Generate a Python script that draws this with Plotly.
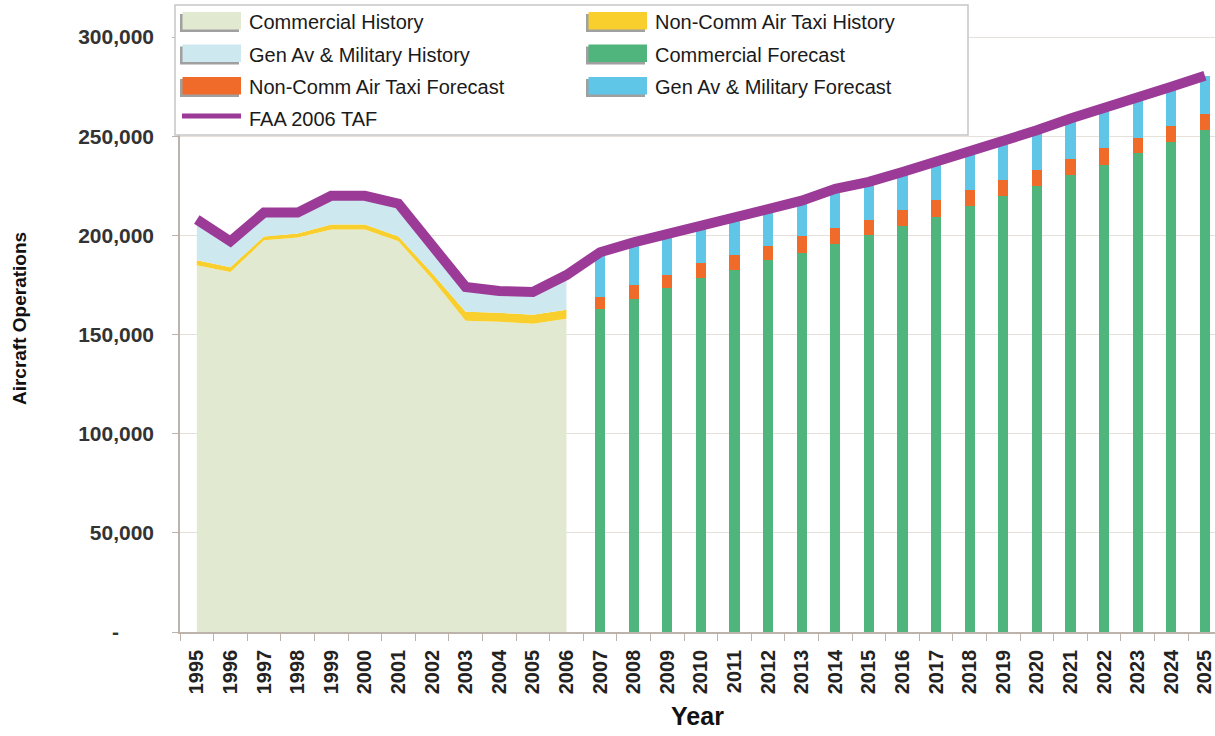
import plotly.graph_objects as go

# ---------------- data (thousands of operations) ----------------
years = [str(y) for y in range(1995, 2026)]
hist_years = [str(y) for y in range(1995, 2007)]
fc_years = [str(y) for y in range(2007, 2026)]

comm_hist = [185, 181.5, 197.5, 199, 203, 203, 197, 178, 157, 156.5, 155.5, 158]
taxi_hist = [2.5, 2.5, 2, 2, 2.5, 2.5, 2.5, 3, 4.5, 4.5, 4.5, 4.5]
genav_hist = [20.5, 13, 12, 10.5, 14.5, 14.5, 16.5, 14, 12.5, 11, 11.5, 17.5]

comm_fc = [163, 168, 173.5, 178.5, 182.5, 187.5, 191, 195.5, 200, 205,
           209.5, 215, 220, 225, 230.5, 235.5, 241.5, 247, 253]
taxi_fc = [6, 7, 6.5, 7.5, 7.5, 7, 8.5, 8, 8, 8, 8.5, 8, 8, 8, 8, 8.5, 7.5, 8, 8]
genav_fc = [22.5, 21.5, 20.5, 19, 19, 18.5, 18, 20, 19, 19, 19, 19.5, 19.5,
            20, 20.5, 20, 20.5, 20, 19.5]

taf = [208, 197, 211.5, 211.5, 220, 220, 216, 195, 174, 172, 171.5, 180,
       191.5, 196.5, 200.5, 205, 209, 213, 217.5, 223.5, 227, 232, 237,
       242.5, 247.5, 253, 259, 264, 269.5, 275, 280.5]

y_ticks = [0, 50000, 100000, 150000, 200000, 250000, 300000]
y_ticktext = ["-\u00a0\u00a0\u00a0\u00a0\u00a0\u00a0", "50,000", "100,000", "150,000",
              "200,000", "250,000", "300,000"]

series_names = ["Commercial History", "Non-Comm Air Taxi History",
                "Gen Av & Military History", "Commercial Forecast",
                "Non-Comm Air Taxi Forecast", "Gen Av & Military Forecast",
                "FAA 2006 TAF"]

# ---------------- styles ----------------
C_COMM_H = "#e2e9d1"
C_TAXI_H = "#f8cf2c"
C_GEN_H = "#cde8ee"
C_COMM_F = "#4fb57c"
C_TAXI_F = "#f06a2a"
C_GEN_F = "#5fc6e8"
C_TAF = "#9b3b97"
series_colors = [C_COMM_H, C_TAXI_H, C_GEN_H, C_COMM_F, C_TAXI_F, C_GEN_F, C_TAF]

FONT = "Liberation Sans, Arial, sans-serif"
W, H = 1215, 736
ML, MR, MT, MB = 180, 0, 5, 104

k = lambda arr: [v * 1000 for v in arr]

fig = go.Figure()

# history stacked areas
for vals, nm, col in [(comm_hist, series_names[0], C_COMM_H),
                      (taxi_hist, series_names[1], C_TAXI_H),
                      (genav_hist, series_names[2], C_GEN_H)]:
    fig.add_trace(go.Scatter(x=hist_years, y=k(vals), name=nm, stackgroup="hist",
                             mode="lines", line=dict(width=0, color=col), fillcolor=col))

# forecast stacked bars
for vals, nm, col in [(comm_fc, series_names[3], C_COMM_F),
                      (taxi_fc, series_names[4], C_TAXI_F),
                      (genav_fc, series_names[5], C_GEN_F)]:
    fig.add_trace(go.Bar(x=fc_years, y=k(vals), name=nm,
                         marker=dict(color=col, line=dict(width=0)), width=0.3))

# TAF line
fig.add_trace(go.Scatter(x=years, y=k(taf), name=series_names[6], mode="lines",
                         line=dict(color=C_TAF, width=10)))

# ---------------- custom legend (layout decoration, paper coords) ----------------
pw, ph = W - ML - MR, H - MT - MB
pxp = lambda x: (x - ML) / pw
pyp = lambda y: (H - MB - y) / ph

shapes = [dict(type="rect", xref="paper", yref="paper", layer="above",
               x0=pxp(175), x1=pxp(968), y0=pyp(135), y1=pyp(5),
               line=dict(color="#c6c6c6", width=1.5), fillcolor="white")]
annotations = []
row_c = [22, 54.5, 87, 119]
sw_x = [180, 586]
tx_x = [247, 653]
for i, (nm, col) in enumerate(zip(series_names, series_colors)):
    r, c = divmod(i, 2)
    cy = row_c[r]
    sx = sw_x[c]
    if i < 6:
        shapes.append(dict(type="rect", xref="paper", yref="paper", layer="above",
                           x0=pxp(sx), x1=pxp(sx + 59), y0=pyp(cy + 10), y1=pyp(cy - 8),
                           line=dict(width=0), fillcolor="#a0a0a0"))
        shapes.append(dict(type="rect", xref="paper", yref="paper", layer="above",
                           x0=pxp(sx + 2.5), x1=pxp(sx + 61), y0=pyp(cy + 7.5), y1=pyp(cy - 10),
                           line=dict(width=0), fillcolor=col))
    else:
        shapes.append(dict(type="line", xref="paper", yref="paper", layer="above",
                           x0=pxp(sx + 2), x1=pxp(sx + 61), y0=pyp(cy - 3), y1=pyp(cy - 3),
                           line=dict(color=col, width=5)))
    annotations.append(dict(xref="paper", yref="paper", x=pxp(tx_x[c]), y=pyp(cy),
                            xanchor="left", yanchor="middle", showarrow=False, text=nm,
                            font=dict(family=FONT, size=20, color="#1a1a1a")))

fig.update_layout(
    width=W, height=H,
    margin=dict(l=ML, r=MR, t=MT, b=MB),
    paper_bgcolor="white", plot_bgcolor="white",
    barmode="stack",
    font=dict(family=FONT, color="#222222", size=20),
    showlegend=False,
    shapes=shapes,
    annotations=annotations,
    xaxis=dict(type="category", categoryorder="array", categoryarray=years,
               range=[-0.5, 30.3], showgrid=False, automargin=False,
               showline=True, linecolor="#bdb3aa", linewidth=1.5,
               ticks="outside", tickson="boundaries", ticklen=7, tickcolor="#bdb3aa",
               tickangle=-90, ticklabelstandoff=8,
               tickfont=dict(family=FONT, size=20, color="#222222", weight="bold"),
               title=dict(text="Year", standoff=14,
                          font=dict(family=FONT, size=25, color="#111111", weight="bold"))),
    yaxis=dict(range=[0, 316200], tickvals=y_ticks, ticktext=y_ticktext,
               showgrid=True, gridcolor="#e6e0da", gridwidth=1, automargin=False,
               showline=True, linecolor="#bdb3aa", linewidth=1.5,
               ticks="outside", ticklen=6, tickcolor="#bdb3aa", ticklabelstandoff=14,
               zeroline=False,
               tickfont=dict(family=FONT, size=21, color="#333333", weight="bold"),
               title=dict(text="Aircraft Operations", standoff=46,
                          font=dict(family=FONT, size=19, color="#111111", weight="bold"))),
)

# remove the browser's default 8px page margin so the figure fills the window
fig.write_html("out.html", config={"displayModeBar": False},
               post_script="document.body.style.margin='0';")
